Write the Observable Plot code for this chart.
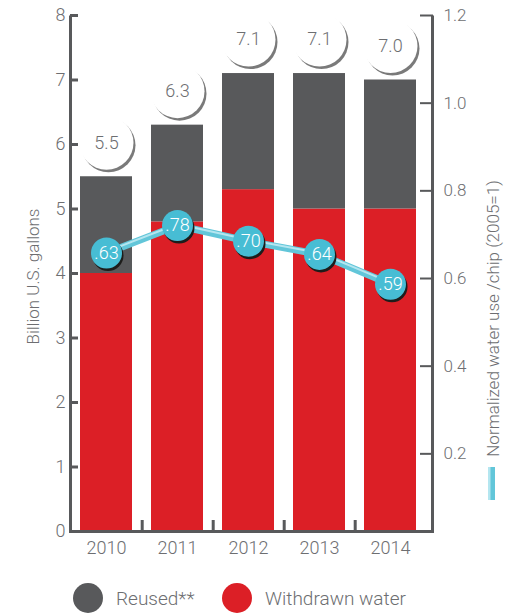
<!DOCTYPE html>
<html><head><meta charset="utf-8">
<script src="https://cdn.jsdelivr.net/npm/d3@7"></script>
<script src="https://cdn.jsdelivr.net/npm/@observablehq/plot@0.6"></script>
<style>
body{margin:0;background:#fff;font-family:Roboto,sans-serif;}
#wrap{position:relative;width:517px;}
.legend{position:relative;height:53px;color:#6d6e71;font-size:19px;font-weight:300;}
.legend .sw{position:absolute;top:23px;width:30px;height:30px;border-radius:50%;}
.legend .lab{position:absolute;top:38px;transform:translateY(-50%);white-space:nowrap;}
</style></head><body><div id="wrap"></div>
<script>
const years = ["2010", "2011", "2012", "2013", "2014"];
const withdrawn = [4.0, 4.8, 5.3, 5.0, 5.0];
const totals = [5.5, 6.3, 7.1, 7.1, 7.0];
const totalLabels = ["5.5", "6.3", "7.1", "7.1", "7.0"];
const ratio = [0.658, 0.721, 0.685, 0.655, 0.587];
const ratioLabels = [".63", ".78", ".70", ".64", ".59"];
const leftTicks = [0, 1, 2, 3, 4, 5, 6, 7, 8];
const rightTicks = [0.2, 0.4, 0.6, 0.8, 1.0, 1.2];
const seriesNames = ["Reused**", "Withdrawn water"];
const seriesColors = ["#58595b", "#dc1f26"];

const W = 517, H = 560, mL = 70, mR = 85, mT = 15, mB = 29;
const toLeft = d3.scaleLinear().domain([10 / 438, 1.2]).range([0, 8]);
const toRight = toLeft.invert;

const rows = [];
years.forEach((year, i) => {
  rows.push({year, type: "Withdrawn water", value: withdrawn[i]});
  rows.push({year, type: "Reused**", value: totals[i] - withdrawn[i]});
});
const totData = years.map((year, i) => ({year, total: totals[i], label: totalLabels[i]}));
const lineData = years.map((year, i) => ({year, v: toLeft(ratio[i]), label: ratioLabels[i]}));

const gray = "#58595b", txt = "#6d6e71";
const fw = W - mL - mR, fh = H - mT - mB;
const none = () => "";

const svg = Plot.plot({
  width: W, height: H,
  marginLeft: mL, marginRight: mR, marginTop: mT, marginBottom: mB,
  style: {fontFamily: "Roboto, sans-serif", fontSize: "18px", color: txt, background: "white", fontWeight: 300, overflow: "visible"},
  x: {domain: years, paddingInner: 0.27, paddingOuter: 0.17, align: 0.4, axis: null},
  y: {domain: [0, 8], axis: null},
  color: {domain: seriesNames, range: seriesColors},
  marks: [
    Plot.barY(rows, {x: "year", y: "value", fill: "type", order: ["Withdrawn water", "Reused**"]}),
    Plot.frame({stroke: gray, strokeWidth: 3, strokeDasharray: `0 ${fw} ${2 * fh + fw}`}),
    Plot.axisY({anchor: "left", ticks: leftTicks, tickSize: 8, dx: 8, tickFormat: none, label: null, stroke: gray, strokeWidth: 3}),
    Plot.axisY({anchor: "left", ticks: leftTicks, tickSize: 0, tickPadding: 5, fontSize: 18, label: null, color: txt}),
    Plot.axisY({anchor: "right", ticks: rightTicks.map(toLeft), tickSize: 13, dx: -13, tickFormat: none, label: null, stroke: gray, strokeWidth: 2}),
    Plot.axisY({anchor: "right", ticks: rightTicks.map(toLeft), tickSize: 0, tickPadding: 11, fontSize: 17, label: null, color: txt, tickFormat: d => toRight(d).toFixed(1)}),
    Plot.axisX({anchor: "bottom", ticks: years.slice(0, 4), tickSize: 11, dy: -11, dx: 35.7, tickFormat: none, label: null, stroke: gray, strokeWidth: 3}),
    Plot.axisX({anchor: "bottom", ticks: years, tickSize: 0, tickPadding: 10, fontSize: 18, label: null, color: txt}),
    Plot.text(["Billion U.S. gallons"], {frameAnchor: "left", textAnchor: "middle", text: d => d, rotate: -90, dx: -37, dy: 3, fontSize: 17, fill: txt}),
    Plot.text(["Normalized water use /chip (2005=1)"], {frameAnchor: "right", textAnchor: "middle", text: d => d, rotate: -90, dx: 61, dy: 45, fontSize: 17, fill: txt}),
    // value bubbles
    Plot.dot(totData, {x: "year", y: "total", r: 27, fill: "#7a7a7a", dx: 2, dy: -31.5, ariaLabel: "bubble shadow"}),
    Plot.dot(totData, {x: "year", y: "total", r: 27, fill: "white", dy: -34}),
    Plot.text(totData, {x: "year", y: "total", text: "label", dy: -34, fontSize: 18, fill: txt}),
    // line
    Plot.line(lineData, {x: "year", y: "v", stroke: "#1d1d1b", strokeWidth: 7, dx: 1, dy: 3, ariaLabel: "line shadow"}),
    Plot.line(lineData, {x: "year", y: "v", stroke: "#62c6d9", strokeWidth: 7}),
    Plot.line(lineData, {x: "year", y: "v", stroke: "#b4e6f0", strokeWidth: 2, dy: -1.5}),
    Plot.dot(lineData, {x: "year", y: "v", r: 15.5, fill: "#1d1d1b", dx: 1.5, dy: 2.5, ariaLabel: "dot shadow"}),
    Plot.dot(lineData, {x: "year", y: "v", r: 15.5, fill: "#47bdd4"}),
    Plot.text(lineData, {x: "year", y: "v", text: "label", fontSize: 18, fill: "white"})
  ]
});

const s = d3.select(svg);
s.insert("defs", ":first-child").html(
  `<filter id="blur1" x="-50%" y="-50%" width="200%" height="200%"><feGaussianBlur stdDeviation="1.6"/></filter>` +
  `<filter id="blur2" x="-50%" y="-50%" width="200%" height="200%"><feGaussianBlur stdDeviation="1.2"/></filter>`);
s.selectAll('g[aria-label="bubble shadow"]').attr("filter", "url(#blur1)");
s.selectAll('g[aria-label="line shadow"], g[aria-label="dot shadow"]').attr("filter", "url(#blur2)");
// line legend swatch beside the right title
s.append("rect").attr("x", 488).attr("y", 467).attr("width", 7).attr("height", 33).attr("fill", "#62c6d9");
s.append("rect").attr("x", 488).attr("y", 467).attr("width", 2.5).attr("height", 33).attr("fill", "#b4e6f0");

const wrap = document.getElementById("wrap");
wrap.appendChild(svg);
const leg = document.createElement("div");
leg.className = "legend";
const legPos = [[73, 116], [222, 265]];
seriesNames.forEach((name, i) => {
  const sw = document.createElement("span");
  sw.className = "sw"; sw.style.left = legPos[i][0] + "px"; sw.style.background = seriesColors[i];
  const lab = document.createElement("span");
  lab.className = "lab"; lab.style.left = legPos[i][1] + "px"; lab.textContent = name;
  leg.appendChild(sw); leg.appendChild(lab);
});
wrap.appendChild(leg);
</script></body></html>
